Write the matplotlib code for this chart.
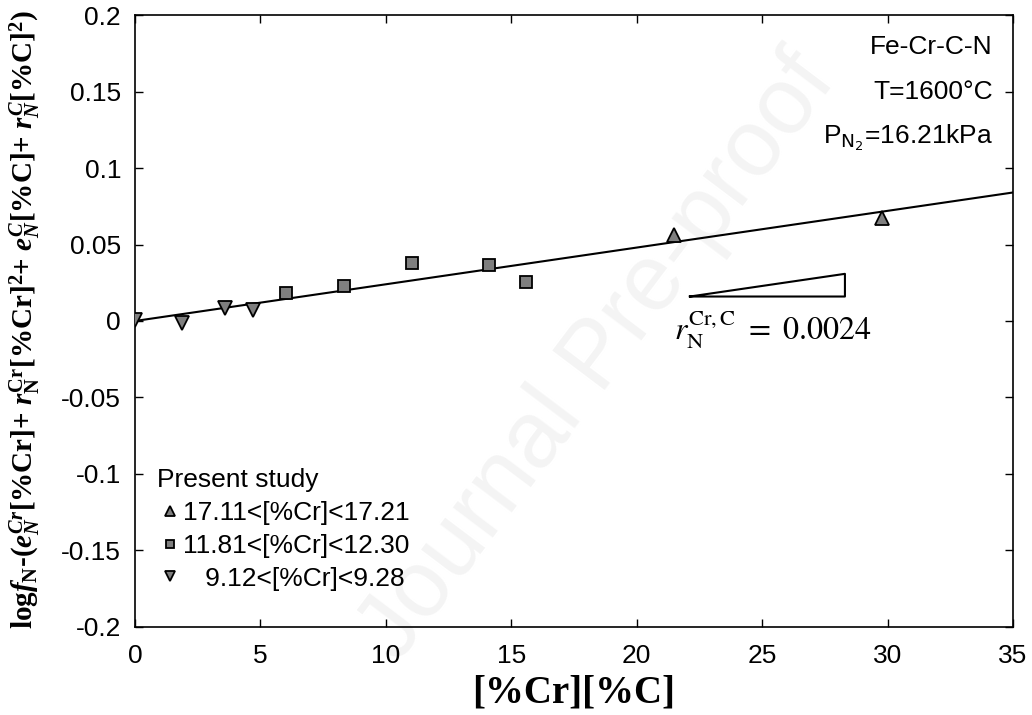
import numpy as np
import matplotlib.pyplot as plt

# data
cr_c_17 = [21.48, 29.79]
y_17 = [0.0562, 0.0671]
cr_c_12 = [6.0, 8.34, 11.03, 14.12, 15.58]
y_12 = [0.0185, 0.0229, 0.0377, 0.0364, 0.0253]
cr_c_9 = [0.0, 1.87, 3.59, 4.72]
y_9 = [0.0007, -0.0013, 0.0087, 0.0072]

slope = 0.0024
intercept = 0.0
fit_x = [0, 35]

x_ticks = [0, 5, 10, 15, 20, 25, 30, 35]
y_ticks = [-0.2, -0.15, -0.1, -0.05, 0, 0.05, 0.1, 0.15, 0.2]
y_tick_labels = ['-0.2', '-0.15', '-0.1', '-0.05', '0', '0.05', '0.1', '0.15', '0.2']

labels = ['17.11<[%Cr]<17.21', '11.81<[%Cr]<12.30', '   9.12<[%Cr]<9.28']

plt.rcParams['font.family'] = ['Liberation Sans', 'DejaVu Sans']
plt.rcParams['mathtext.fontset'] = 'custom'
plt.rcParams['mathtext.rm'] = 'Liberation Serif:bold'
plt.rcParams['mathtext.it'] = 'Liberation Serif:italic:bold'
plt.rcParams['mathtext.bf'] = 'Liberation Serif:bold'

fig = plt.figure(figsize=(10.32, 7.15), dpi=100)
ax = fig.add_axes([0.1308, 0.1231, 0.8508, 0.8559])

# faint watermark, behind everything
fig.text(0.58, 0.50, 'Journal Pre-proof', fontsize=68, color='#f4f4f4',
         rotation=53, ha='center', va='center', zorder=-1)
ax.patch.set_alpha(0)

grey = '#7f7f7f'
ax.plot(fit_x, [slope * v + intercept for v in fit_x], color='black', lw=1.5, zorder=2)
ax.plot(cr_c_17, y_17, '^', ms=10.5, mfc=grey, mec='black', mew=1.3, ls='none',
        label=labels[0], zorder=3)
ax.plot(cr_c_12, y_12, 's', ms=8.5, mfc=grey, mec='black', mew=1.3, ls='none',
        label=labels[1], zorder=3)
ax.plot(cr_c_9, y_9, 'v', ms=10.5, mfc=grey, mec='black', mew=1.3, ls='none',
        label=labels[2], zorder=3)

# slope triangle
tx0, tx1 = 22.12, 28.3
ty0 = 0.016
ax.plot([tx0, tx1, tx1, tx0], [ty0, ty0, ty0 + slope * (tx1 - tx0), ty0],
        color='black', lw=1.5, zorder=2)
ax.text(21.5, -0.0125, r'$r_{\mathrm{N}}^{\mathrm{Cr,C}}\ =\ 0.0024$', fontsize=23,
        math_fontfamily='stix', va='baseline', ha='left')

ax.text(0.977, 0.948, 'Fe-Cr-C-N', transform=ax.transAxes, ha='right', va='center', fontsize=19)
ax.text(0.977, 0.874, 'T=1600°C', transform=ax.transAxes, ha='right', va='center', fontsize=19)
ax.text(0.977, 0.799, 'P$_{\\mathsf{N_2}}$=16.21kPa', transform=ax.transAxes, ha='right',
        va='center', fontsize=19, math_fontfamily='dejavusans')

leg = ax.legend(loc='lower left', bbox_to_anchor=(0.013, 0.042), frameon=False,
                title='Present study', fontsize=19, title_fontsize=19,
                handletextpad=0.0, handlelength=1.0, labelspacing=0.34,
                markerscale=0.75, alignment='left', borderaxespad=0.0)

ax.set_xlim(0, 35)
ax.set_ylim(-0.2, 0.2)
ax.set_xticks(x_ticks)
ax.set_yticks(y_ticks)
ax.set_yticklabels(y_tick_labels)
ax.tick_params(direction='in', top=True, right=True, labelsize=19, length=6, width=1)
ax.tick_params(axis='x', pad=12)
ax.tick_params(axis='y', pad=10)
for s in ax.spines.values():
    s.set_linewidth(1.2)

ax.set_xlabel('[%Cr][%C]', fontsize=28, fontweight='bold', family='Liberation Serif')
ax.xaxis.set_label_coords(0.5, -0.078)
ax.set_ylabel(r'$\mathrm{log}f_{\mathrm{N}}$-($e_N^{Cr}$[%Cr]+ $r_{\mathrm{N}}^{\mathrm{Cr}}$[%Cr]$^2$+ $e_N^C$[%C]+ $r_N^C$[%C]$^2$)',
              fontsize=21, fontweight='bold', family='Liberation Serif')
ax.yaxis.set_label_coords(-0.105, 0.502)

fig.savefig('out.png', dpi=100)
